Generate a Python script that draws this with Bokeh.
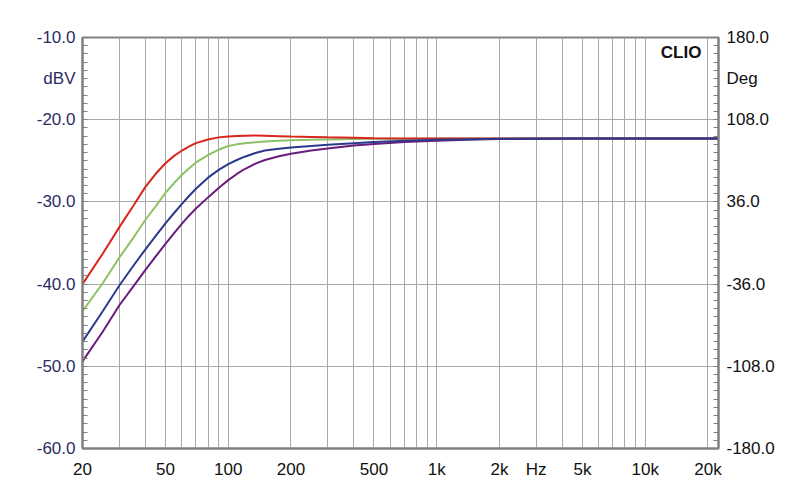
from bokeh.plotting import figure
from bokeh.models import Range1d, LinearAxis, FixedTicker, Label
from bokeh.embed import file_html
from bokeh.resources import INLINE

# ---- data ----
freq = [20, 25, 30, 35, 40, 45, 50, 55, 60, 65, 70, 80, 90, 100, 110, 120, 135, 150, 175,
        200, 250, 300, 400, 500, 700, 1000, 1500, 2000, 5000, 10000, 22470]
red = [-40.0, -36.3, -33.1, -30.5, -28.2, -26.55, -25.3, -24.4, -23.75, -23.25, -22.85,
       -22.4, -22.15, -22.03, -21.97, -21.94, -21.93, -21.95, -22.0, -22.05, -22.1, -22.15,
       -22.2, -22.25, -22.28, -22.3, -22.3, -22.3, -22.3, -22.3, -22.3]
green = [-43.3, -39.9, -36.8, -34.4, -32.2, -30.5, -28.9, -27.7, -26.7, -25.9, -25.2, -24.3,
         -23.65, -23.2, -23.0, -22.87, -22.74, -22.66, -22.57, -22.51, -22.44, -22.4, -22.36,
         -22.33, -22.31, -22.3, -22.3, -22.3, -22.3, -22.3, -22.3]
blue = [-47.0, -43.3, -40.2, -37.8, -35.8, -34.1, -32.6, -31.35, -30.25, -29.25, -28.4,
        -27.05, -26.1, -25.4, -24.9, -24.5, -24.05, -23.75, -23.52, -23.38, -23.2, -23.05,
        -22.85, -22.7, -22.55, -22.45, -22.37, -22.33, -22.3, -22.3, -22.3]
purple = [-49.4, -45.8, -42.6, -40.3, -38.3, -36.6, -35.1, -33.8, -32.65, -31.65, -30.8,
          -29.45, -28.3, -27.35, -26.6, -26.0, -25.35, -24.9, -24.45, -24.15, -23.75, -23.5,
          -23.15, -22.95, -22.7, -22.55, -22.42, -22.36, -22.3, -22.3, -22.3]

x_ticks = [20, 50, 100, 200, 500, 1000, 2000, 3000, 5000, 10000, 20000]
x_labels = ["20", "50", "100", "200", "500", "1k", "2k", "Hz", "5k", "10k", "20k"]
x_grid = [20, 30, 40, 50, 60, 70, 80, 90, 100, 200, 300, 400, 500, 600, 700, 800, 900,
          1000, 2000, 3000, 4000, 5000, 6000, 7000, 8000, 9000, 10000, 20000]
y_ticks = [-60, -50, -40, -30, -20, -15, -10]
y_labels = ["-60.0", "-50.0", "-40.0", "-30.0", "-20.0", "dBV", "-10.0"]
y_grid = [-50, -40, -30, -20]
r_ticks = [-180, -108, -36, 36, 108, 144, 180]
r_labels = ["-180.0", "-108.0", "-36.0", "36.0", "108.0", "Deg", "180.0"]

FONT = "Liberation Sans"
FS = "17px"
GRID = "#a9a9a9"
FRAME = "#808080"

p = figure(width=800, height=504, x_axis_type="log",
           x_range=Range1d(20, 22470), y_range=Range1d(-60, -10),
           output_backend="svg", toolbar_location=None,
           min_border_left=82, min_border_right=82, min_border_top=37, min_border_bottom=56)
p.background_fill_color = "white"
p.border_fill_color = "white"
p.outline_line_color = FRAME
p.outline_line_width = 2

# grids
p.xgrid[0].ticker = FixedTicker(ticks=x_grid)
p.ygrid[0].ticker = FixedTicker(ticks=y_grid)
for g in (p.xgrid[0], p.ygrid[0]):
    g.grid_line_color = GRID
    g.grid_line_width = 1

# bottom axis
xa = p.xaxis[0]
xa.ticker = FixedTicker(ticks=x_ticks)
xa.major_label_overrides = {t: l for t, l in zip(x_ticks, x_labels)}
xa.major_tick_line_color = None
xa.minor_tick_line_color = None
xa.axis_line_color = FRAME
xa.axis_line_width = 2
xa.major_label_text_font = FONT
xa.major_label_text_font_size = FS
xa.major_label_text_color = "#111111"
xa.major_label_standoff = 5

# left axis
ya = p.yaxis[0]
ya.ticker = FixedTicker(ticks=y_ticks, minor_ticks=list(range(-60, -9)))
ya.major_label_overrides = {t: l for t, l in zip(y_ticks, y_labels)}
ya.major_tick_line_color = None
ya.minor_tick_line_color = FRAME
ya.minor_tick_in = 5
ya.minor_tick_out = 0
ya.axis_line_color = FRAME
ya.axis_line_width = 2
ya.major_label_text_font = FONT
ya.major_label_text_font_size = FS
ya.major_label_text_color = "#2c2c64"
ya.major_label_standoff = 1

# right axis
p.extra_y_ranges = {"deg": Range1d(-180, 180)}
ra = LinearAxis(y_range_name="deg")
ra.ticker = FixedTicker(ticks=r_ticks, minor_ticks=[-180 + 7.2 * i for i in range(51)])
ra.major_label_overrides = {t: l for t, l in zip(r_ticks, r_labels)}
ra.major_tick_line_color = None
ra.minor_tick_line_color = FRAME
ra.minor_tick_in = 5
ra.minor_tick_out = 0
ra.axis_line_color = FRAME
ra.axis_line_width = 2
ra.major_label_text_font = FONT
ra.major_label_text_font_size = FS
ra.major_label_text_color = "#111111"
ra.major_label_standoff = 2
p.add_layout(ra, "right")

# curves
p.line(freq, green, line_color="#8cc266", line_width=2)
p.line(freq, red, line_color="#d9261c", line_width=2)
p.line(freq, purple, line_color="#6a1c7c", line_width=2)
p.line(freq, blue, line_color="#2b3a8c", line_width=2)

p.add_layout(Label(x=18600, y=-11.85, text="CLIO", text_font=FONT, text_font_style="bold",
                   text_font_size="17px", text_align="right", text_baseline="middle",
                   text_color="#111111"))

open("out.html", "w").write(file_html(p, INLINE))
